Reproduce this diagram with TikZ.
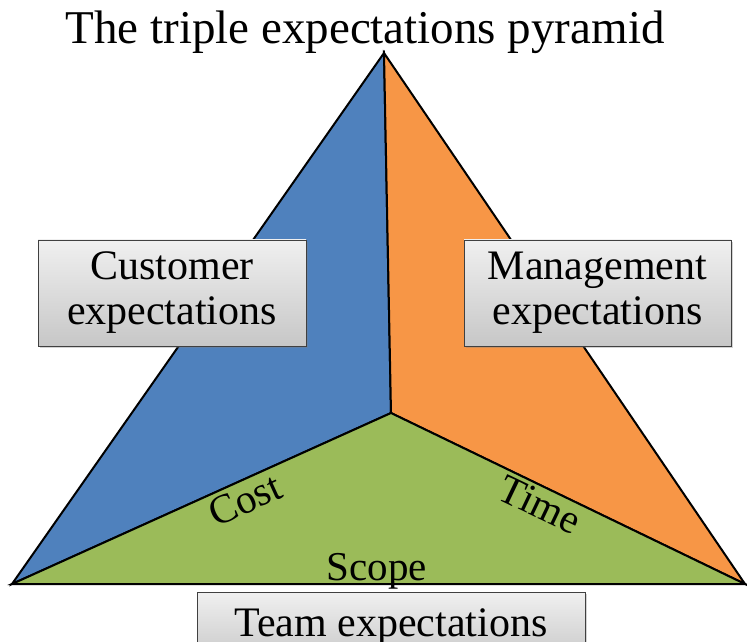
\documentclass[tikz,border=0pt]{standalone}
\usepackage{fontspec}
\setmainfont{Liberation Serif}
\usetikzlibrary{shadows}
\definecolor{faceblue}{HTML}{4F81BD}
\definecolor{faceorange}{HTML}{F79646}
\definecolor{facegreen}{HTML}{9BBB59}
\tikzset{
  face/.style={draw=black, line width=2pt, line join=miter},
  labelbox/.style={draw=black!75, line width=0.8pt, top color=black!6, bottom color=black!22,
    drop shadow={shadow xshift=2pt, shadow yshift=-2pt, opacity=0.35},
    align=center, inner sep=0pt, font=\fontsize{42}{45}\selectfont},
  edgelabel/.style={font=\fontsize{41}{44}\selectfont, inner sep=0pt},
}
\begin{document}
\begin{tikzpicture}[x=1pt,y=1pt]
\useasboundingbox (0,0) rectangle (747,641);
\clip (0,0) rectangle (747,641);
% corners of the pyramid seen from above
\coordinate (apex) at (384,588);
\coordinate (mid) at (391,228);
\coordinate (bl) at (12,57);
\coordinate (br) at (745,57);
% the three faces
\filldraw[face, fill=faceblue] (apex) -- (mid) -- (bl) -- cycle;
\filldraw[face, fill=faceorange] (apex) -- (br) -- (mid) -- cycle;
\filldraw[face, fill=facegreen] (mid) -- (br) -- (bl) -- cycle;
% title
\node[font=\fontsize{47}{50}\selectfont, inner sep=0pt, anchor=base] (title) at (365,597) {The triple expectations pyramid};
% edge labels
\node[edgelabel, rotate=24.5] (cost) at (245,141) {Cost};
\node[edgelabel, rotate=-25.5] (time) at (540,136) {Time};
\node[edgelabel, anchor=base] (scope) at (377,61) {Scope};
% stakeholder boxes
\node[labelbox, minimum width=268pt, minimum height=106pt] (customer) at (172,348) {Customer\\expectations};
\node[labelbox, minimum width=267pt, minimum height=106pt] (management) at (597.5,348) {Management\\expectations};
\node[labelbox, minimum width=388pt, minimum height=70pt, anchor=north] (team) at (391,49) {\raisebox{-8pt}{Team expectations}};
\end{tikzpicture}
\end{document}
